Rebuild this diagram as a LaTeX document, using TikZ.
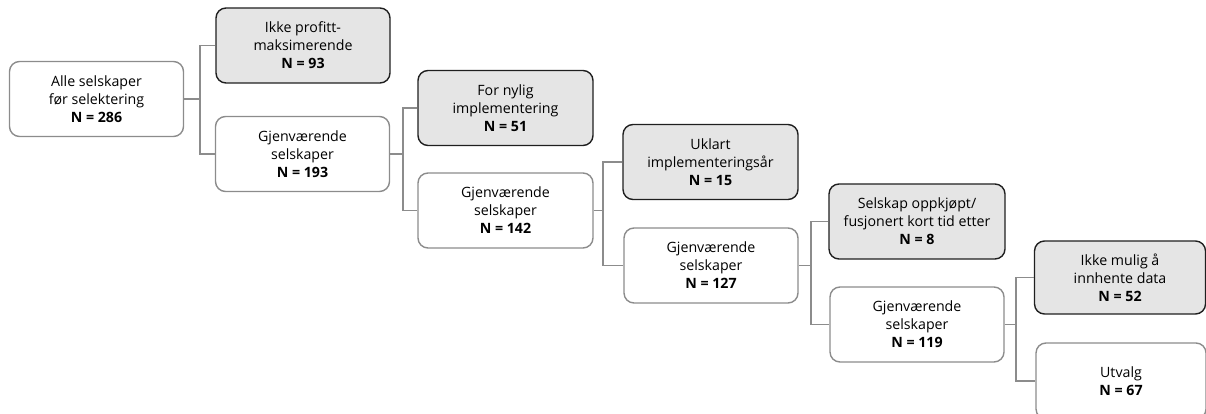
\documentclass[tikz,border=0pt]{standalone}
\usepackage{fontspec}
\setmainfont{Open Sans}
\begin{document}
\begin{tikzpicture}[x=1pt,y=-1pt,
  box/.style={draw, rounded corners=10pt, line width=1.4pt, align=center,
    minimum width=174pt, minimum height=75pt, inner sep=2pt,
    font=\fontsize{14.2}{18}\selectfont},
  keep/.style={box, draw=black!45, fill=white},
  drop/.style={box, draw=black!88, fill=black!10},
  conn/.style={draw=black!45, line width=1.4pt}]
\useasboundingbox (0,0) rectangle (1206,414);
\clip (0,0) rectangle (1206,414);

% boxes
\node[keep] (A) at (96.5,99) {Alle selskaper\\før selektering\\\textbf{N = 286}};
\node[drop] (B) at (303,45.5) {Ikke profitt-\\maksimerende\\\textbf{N = 93}};
\node[keep] (C) at (302.5,154) {Gjenværende\\selskaper\\\textbf{N = 193}};
\node[drop, minimum width=175pt] (D) at (505.5,108) {For nylig\\implementering\\\textbf{N = 51}};
\node[keep, minimum width=175pt] (E) at (505.5,210.5) {Gjenværende\\selskaper\\\textbf{N = 142}};
\node[drop, minimum width=175pt] (F) at (710.5,162) {Uklart\\implementeringsår\\\textbf{N = 15}};
\node[keep] (G) at (711,265.5) {Gjenværende\\selskaper\\\textbf{N = 127}};
\node[drop, minimum width=176pt] (H) at (917,221.5) {Selskap oppkjøpt/\\fusjonert kort tid etter\\\textbf{N = 8}};
\node[keep] (I) at (917,324.5) {Gjenværende\\selskaper\\\textbf{N = 119}};
\node[drop, minimum width=171pt, minimum height=73pt] (J) at (1120,277.5) {Ikke mulig å\\innhente data\\\textbf{N = 52}};
\node[keep, minimum width=170pt, minimum height=76pt] (K) at (1121,381) {Utvalg\\\textbf{N = 67}};

% branch points
\coordinate (jA) at (200,99);
\coordinate (jC) at (403,154);
\coordinate (jE) at (603,210.5);
\coordinate (jG) at (811,265.5);
\coordinate (jI) at (1016,324.5);

% connectors
\draw[conn] (A.east) -- (jA);
\draw[conn] (B.west) -| (jA) |- (C.west);
\draw[conn] (C.east) -- (jC);
\draw[conn] (D.west) -| (jC) |- (E.west);
\draw[conn] (E.east) -- (jE);
\draw[conn] (F.west) -| (jE) |- (G.west);
\draw[conn] (G.east) -- (jG);
\draw[conn] (H.west) -| (jG) |- (I.west);
\draw[conn] (I.east) -- (jI);
\draw[conn] (J.west) -| (jI) |- (K.west);
\end{tikzpicture}
\end{document}
